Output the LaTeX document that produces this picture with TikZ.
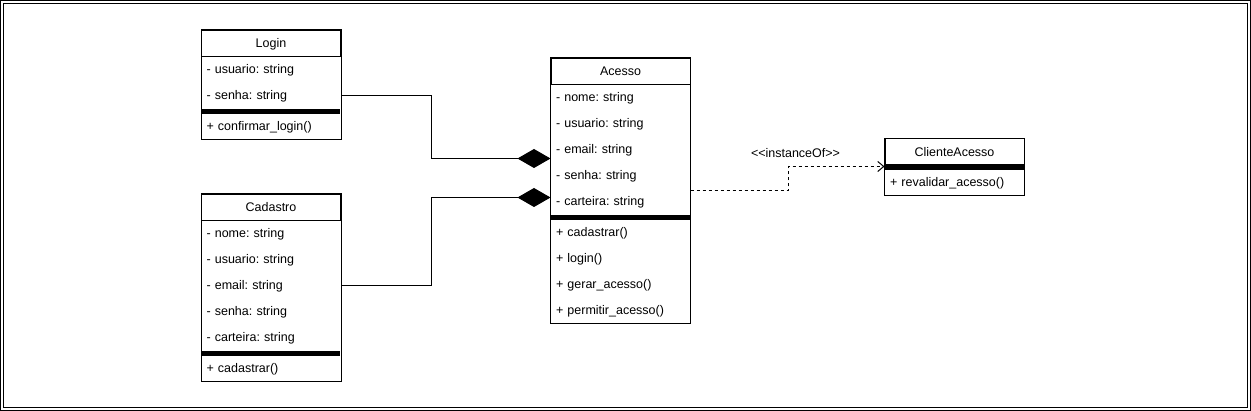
\documentclass[tikz,border=0pt]{standalone}
\usepackage{fontspec}
\setmainfont{Liberation Sans}
\usetikzlibrary{arrows.meta}
\tikzset{
	head/.style={draw, minimum width=139pt, minimum height=26pt, inner sep=0pt, text height=11pt, text depth=2pt},
	row/.style={minimum width=139pt, minimum height=26pt, inner xsep=5pt, inner ysep=0pt, text width=129pt, align=left, text height=11pt, text depth=2pt},
	comp/.style={-{Diamond[length=33pt, width=19pt]}},
	inst/.style={dash pattern=on 3pt off 3pt, -{Straight Barb[length=6pt, width=10pt]}}
}

\begin{document}
\frenchspacing
\begin{tikzpicture}[x=1pt, y=-1pt, line width=1pt, font=\fontsize{12.5}{15}\selectfont]
		\useasboundingbox (0, 0) rectangle (1251, 411);
		\draw (0.5, 0.5) rectangle (1250.5, 410.5);
		\draw (3.5, 3.5) rectangle (1247.5, 407.5);

	\begin{scope}[xshift=0.5pt, yshift=-0.5pt]
		\node[head] (login) at (270.5, 43) {Login};
		\node[row] (login-r1) at (270.5, 69) {- usuario: string};
		\node[row] (login-r2) at (270.5, 95) {- senha: string};
		\fill (login-r2.south west) rectangle ++(139, 5);
		\node[row] (login-m1) at (270.5, 125.5) {+ confirmar\_login()};
		\draw (login.north west) rectangle (login-m1.south east);

		\node[head] (cadastro) at (270.5, 207) {Cadastro};
		\node[row] (cadastro-r1) at (270.5, 233) {- nome: string};
		\node[row] (cadastro-r2) at (270.5, 259) {- usuario: string};
		\node[row] (cadastro-r3) at (270.5, 285) {- email: string};
		\node[row] (cadastro-r4) at (270.5, 311) {- senha: string};
		\node[row] (cadastro-r5) at (270.5, 337) {- carteira: string};
		\fill (cadastro-r5.south west) rectangle ++(139, 5);
		\node[row] (cadastro-m1) at (270.5, 367.5) {+ cadastrar()};
		\draw (cadastro.north west) rectangle (cadastro-m1.south east);

		\node[head] (acesso) at (620, 71) {Acesso};
		\node[row] (acesso-r1) at (620, 97) {- nome: string};
		\node[row] (acesso-r2) at (620, 123) {- usuario: string};
		\node[row] (acesso-r3) at (620, 149) {- email: string};
		\node[row] (acesso-r4) at (620, 175) {- senha: string};
		\node[row] (acesso-r5) at (620, 201) {- carteira: string};
		\fill (acesso-r5.south west) rectangle ++(139, 5);
		\node[row] (acesso-m1) at (620, 232) {+ cadastrar()};
		\node[row] (acesso-m2) at (620, 258) {+ login()};
		\node[row] (acesso-m3) at (620, 284) {+ gerar\_acesso()};
		\node[row] (acesso-m4) at (620, 309.5) {+ permitir\_acesso()};
		\draw (acesso.north west) rectangle (acesso-m4.south east);

		\node[head] (cliente) at (954, 151.5) {ClienteAcesso};
		\fill (cliente.south west) rectangle ++(139, 5);
		\node[row] (cliente-m1) at (954, 182) {+ revalidar\_acesso()};
		\draw (cliente.north west) rectangle (cliente-m1.south east);

		\coordinate (acesso-a1) at (550, 158);
		\coordinate (acesso-a2) at (550, 197);
		\coordinate (acesso-out) at (690, 190);
		\coordinate (cliente-in) at (884, 166);

		\draw[comp] (login-r2.east) -- ++(90, 0) |- (acesso-a1);
		\draw[comp] (cadastro-r3.east) -- ++(90, 0) |- (acesso-a2);
		\draw[inst] (acesso-out) -- ++(98, 0) |- (cliente-in);
		\node (inst) at (795, 153) {\textless\kern0pt\textless instanceOf\textgreater\kern0pt\textgreater};
	\end{scope}
\end{tikzpicture}
\end{document}
